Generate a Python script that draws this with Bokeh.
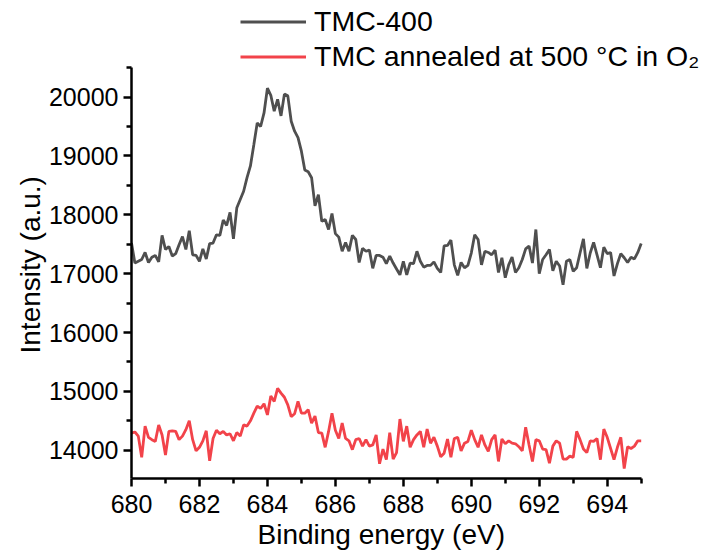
from bokeh.plotting import figure
from bokeh.models import Range1d, FixedTicker, Legend, LegendItem, Title
from bokeh.embed import file_html
from bokeh.resources import INLINE

# Binding energy grid (eV), 0.1 eV step
energy = [round(680 + 0.1 * i, 1) for i in range(151)]

tmc400 = [
    17520, 17180, 17210, 17240, 17360, 17190, 17280, 17310, 17200, 17650,
    17410, 17460, 17300, 17340, 17490, 17630, 17410, 17730, 17320, 17310,
    17210, 17420, 17250, 17510, 17520, 17660, 17650, 17910, 17820, 18040,
    17590, 18120, 18260, 18400, 18630, 18830, 19190, 19560, 19500, 19730,
    20150, 20030, 19760, 19960, 19680, 20050, 20020, 19590, 19420, 19310,
    19080, 18760, 18730, 18630, 18150, 18340, 17890, 17920, 17750, 18020,
    17680, 17620, 17380, 17530, 17380, 17650, 17580, 17190, 17430, 17380,
    17400, 17090, 17310, 17310, 17280, 17170, 17300, 17180, 17080, 16980,
    17210, 16980, 17180, 17170, 17380, 17210, 17110, 17140, 17140, 17200,
    17090, 17020, 17470, 17480, 17570, 17150, 16970, 17190, 17100, 17140,
    17350, 17660, 17580, 17150, 17380, 17360, 17320, 17400, 17020, 17270,
    16930, 17150, 17280, 17020, 17100, 17240, 17420, 17470, 17180, 17750,
    17000, 17240, 17320, 17410, 17050, 17210, 17130, 16810, 17210, 17240,
    17040, 17100, 17350, 17590, 17090, 17350, 17530, 17320, 17100, 17450,
    17340, 17360, 16960, 17170, 17340, 17270, 17190, 17280, 17250, 17360,
    17510,
]

tmc_annealed = [
    14290, 14310, 14240, 13880, 14410, 14220, 14180, 14150, 14430, 14260,
    13920, 14320, 14330, 14320, 14180, 14240, 14350, 14500, 14180, 13990,
    14050, 14160, 14330, 13820, 14200, 14340, 14280, 14320, 14260, 14280,
    14160, 14300, 14240, 14430, 14410, 14500, 14630, 14750, 14710, 14790,
    14600, 14920, 14830, 15050, 14970, 14900, 14770, 14570, 14620, 14830,
    14630, 14630, 14690, 14460, 14580, 14300, 14290, 14050, 14320, 14630,
    14340, 14200, 14460, 14200, 14160, 14010, 14180, 14200, 14070, 14180,
    14070, 14090, 14260, 13770, 14020, 13840, 14300, 13850, 13960, 14530,
    14150, 14410, 14050, 14180, 14260, 14320, 14050, 14360, 14120, 14220,
    14070, 13890, 13950, 14190, 13880, 14200, 14220, 13990, 14120, 14150,
    14340, 14180, 14050, 14260, 14090, 13980, 14180, 14260, 13810, 14190,
    14110, 14160, 14120, 14110, 14060, 13990, 14390, 14090, 13810, 14180,
    14160, 14020, 14010, 13780, 14070, 14160, 14120, 13850, 13850, 13900,
    13880, 14320, 14180, 14020, 13960, 14160, 14150, 14200, 13840, 14360,
    14220, 14030, 13840, 14050, 14220, 13690, 14060, 14030, 14070, 14160,
    14160,
]

series_labels = ["TMC-400", "TMC annealed at 500 \u00b0C in O\u2082"]
x_title = "Binding energy (eV)"
y_title = "Intensity (a.u.)"

x_ticks = [680, 682, 684, 686, 688, 690, 692, 694]
x_minor = [681, 683, 685, 687, 689, 691, 693, 695]
x_tick_labels = ["680", "682", "684", "686", "688", "690", "692", "694"]
x_axis_extent = (680, 695)
y_ticks = [14000, 15000, 16000, 17000, 18000, 19000, 20000]
y_minor = [13500, 14500, 15500, 16500, 17500, 18500, 19500, 20500]
y_tick_labels = ["14000", "15000", "16000", "17000", "18000", "19000", "20000"]
y_axis_extent = (13520, 20500)

FONT = "Liberation Sans"
GRAY = "#4F4F4F"
RED = "#F2434A"

# The frame reaches the top and right page edges so that the legend (drawn
# above / right of the visible axes) is not clipped; the axes use bounds.
p = figure(width=709, height=556, output_backend="svg", toolbar_location=None,
           x_range=Range1d(680, 697.01), y_range=Range1d(13520, 21640),
           min_border_left=131, min_border_right=0, min_border_top=0,
           min_border_bottom=78)
p.outline_line_color = None
p.xgrid.visible = False
p.ygrid.visible = False
p.background_fill_color = "white"
p.border_fill_color = "white"

r1 = p.line(energy, tmc400, line_color=GRAY, line_width=2.8)
r2 = p.line(energy, tmc_annealed, line_color=RED, line_width=2.8)

for ax, ticks, minor, labels in ((p.xaxis[0], x_ticks, x_minor, x_tick_labels),
                                  (p.yaxis[0], y_ticks, y_minor, y_tick_labels)):
    ax.ticker = FixedTicker(ticks=ticks, minor_ticks=minor)
    ax.major_label_overrides = {t: l for t, l in zip(ticks, labels)}
    ax.axis_line_width = 2.5
    ax.axis_line_color = "black"
    ax.major_tick_line_width = 2.5
    ax.minor_tick_line_width = 2.5
    ax.major_tick_line_color = "black"
    ax.minor_tick_line_color = "black"
    ax.major_tick_in = 0
    ax.major_tick_out = 8
    ax.minor_tick_in = 0
    ax.minor_tick_out = 5
    ax.major_label_text_font = FONT
    ax.major_label_text_font_size = "25px"
    ax.major_label_text_color = "black"

p.xaxis.bounds = x_axis_extent
p.yaxis.bounds = y_axis_extent
p.xaxis.major_label_standoff = 8
p.yaxis.major_label_standoff = 5

# Axis titles as side titles so that they can be centred on the visible axes
xt = Title(text=x_title, align="left", offset=126, standoff=3,
           text_font=FONT, text_font_size="28px", text_font_style="normal",
           text_color="black")
yt = Title(text=y_title, align="left", offset=125, standoff=0,
           text_font=FONT, text_font_size="28px", text_font_style="normal",
           text_color="black")
p.add_layout(xt, "below")
p.add_layout(yt, "left")

legend = Legend(items=[LegendItem(label=series_labels[0], renderers=[r1]),
                       LegendItem(label=series_labels[1], renderers=[r2])],
                location=(109, 404))
legend.glyph_width = 66
legend.glyph_height = 35
legend.label_height = 35
legend.spacing = 0
legend.padding = 0
legend.margin = 0
legend.label_standoff = 8
legend.border_line_color = None
legend.background_fill_alpha = 0
legend.label_text_font = FONT
legend.label_text_font_size = "28.5px"
legend.label_text_color = "black"
p.add_layout(legend)

open("out.html", "w").write(file_html(p, INLINE))
